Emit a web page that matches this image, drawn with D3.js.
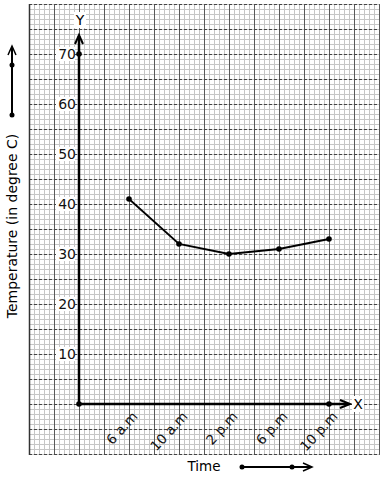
<!DOCTYPE html>
<html>
<head>
<meta charset="utf-8">
<script src="https://cdn.jsdelivr.net/npm/d3@7"></script>
<style>
  body { margin: 0; background: white; }
  text { font-family: "DejaVu Sans", sans-serif; }
</style>
</head>
<body>
<div id="canvas"></div>
<script>
"use strict"

// DATA
let times = ["6 a.m", "10 a.m", "2 p.m", "6 p.m", "10 p.m"];
let temps = [41, 32, 30, 31, 33];
let yTicks = [10, 20, 30, 40, 50, 60, 70];

let svgWidth = 384;
let svgHeight = 480;

let svg = d3.select("#canvas")
  .append("svg")
  .attr("width", svgWidth)
  .attr("height", svgHeight);

// scales: x index 0 is the origin, times sit at 1..5
let xScale = d3.scaleLinear()
  .domain([0, 5])
  .range([79, 329]);

let yScale = d3.scaleLinear()
  .domain([0, 70])
  .range([404, 54]);

// graph paper extents
let gridLeft = xScale(-1), gridRight = xScale(6);
let gridTop = yScale(80), gridBottom = yScale(-10);

// minor grid
let minorX = d3.range(gridLeft, gridRight + 0.1, 5);
let minorY = d3.range(gridTop, gridBottom + 0.1, 5);

svg.selectAll(".minorV")
  .data(minorX)
  .join("line")
  .attr("x1", d => d + 0.5).attr("x2", d => d + 0.5)
  .attr("y1", gridTop).attr("y2", gridBottom)
  .attr("stroke", "#c6c6c6")
  .attr("stroke-width", 1);

svg.selectAll(".minorH")
  .data(minorY)
  .join("line")
  .attr("y1", d => d + 0.5).attr("y2", d => d + 0.5)
  .attr("x1", gridLeft).attr("x2", gridRight)
  .attr("stroke", "#c6c6c6")
  .attr("stroke-width", 1);

// major grid
let majorX = d3.range(gridLeft, gridRight + 0.1, 25);
let majorY = d3.range(gridTop, gridBottom + 0.1, 25);

svg.selectAll(".majorV")
  .data(majorX)
  .join("line")
  .attr("x1", d => d + 0.5).attr("x2", d => d + 0.5)
  .attr("y1", gridTop).attr("y2", gridBottom + 1)
  .attr("stroke", "#5a5a5a")
  .attr("stroke-width", 1);

svg.selectAll(".majorH")
  .data(majorY)
  .join("line")
  .attr("y1", d => d + 0.5).attr("y2", d => d + 0.5)
  .attr("x1", gridLeft).attr("x2", gridRight)
  .attr("stroke", "#444")
  .attr("stroke-dasharray", "3,2")
  .attr("stroke-width", 1);

// frame left side
svg.append("line")
  .attr("x1", gridLeft + 0.5).attr("x2", gridLeft + 0.5)
  .attr("y1", gridTop).attr("y2", gridBottom + 1)
  .attr("stroke", "#333").attr("stroke-width", 1.5);

// Y tick labels with white boxes
let yLab = svg.selectAll(".ylab")
  .data(yTicks)
  .join("g")
  .attr("transform", d => "translate(" + (xScale(0) - 3) + "," + yScale(d) + ")");

yLab.append("rect")
  .attr("x", -20).attr("y", -7)
  .attr("width", 19).attr("height", 14)
  .attr("fill", "white");

yLab.append("text")
  .attr("text-anchor", "end")
  .attr("dy", "0.36em")
  .style("font-size", "14px")
  .attr("fill", "#111")
  .text(d => d);

// axes
let axisColor = "#000";
svg.append("line")
  .attr("x1", xScale(0)).attr("x2", xScale(0))
  .attr("y1", yScale(0)).attr("y2", 36)
  .attr("stroke", axisColor).attr("stroke-width", 2.5);

svg.append("path")
  .attr("d", "M" + (xScale(0) - 4) + ",44 L" + xScale(0) + ",35 L" + (xScale(0) + 4) + ",44")
  .attr("fill", "none").attr("stroke", axisColor).attr("stroke-width", 2);

svg.append("line")
  .attr("x1", xScale(0)).attr("x2", 349)
  .attr("y1", yScale(0)).attr("y2", yScale(0))
  .attr("stroke", axisColor).attr("stroke-width", 2.5);

svg.append("path")
  .attr("d", "M340," + (yScale(0) - 4) + " L350," + yScale(0) + " L340," + (yScale(0) + 4))
  .attr("fill", "none").attr("stroke", axisColor).attr("stroke-width", 2);

// axis letters
svg.append("rect").attr("x", 74).attr("y", 12).attr("width", 12).attr("height", 16).attr("fill", "white");
svg.append("text")
  .attr("x", xScale(0) + 1).attr("y", 25)
  .attr("text-anchor", "middle")
  .style("font-size", "14px")
  .text("Y");

svg.append("rect").attr("x", 352).attr("y", 396).attr("width", 12).attr("height", 16).attr("fill", "white");
svg.append("text")
  .attr("x", 358).attr("y", yScale(0) + 5)
  .attr("text-anchor", "middle")
  .style("font-size", "14px")
  .text("X");

// axis dots
svg.selectAll(".axisDot")
  .data([[0, 0], [0, 70], [5, 0]])
  .join("circle")
  .attr("cx", d => xScale(d[0]))
  .attr("cy", d => yScale(d[1]))
  .attr("r", 2.8)
  .attr("fill", "#000");

// X tick labels
svg.selectAll(".xlab")
  .data(times)
  .join("text")
  .attr("transform", (d, i) => "translate(" + (xScale(i + 1) + 6) + "," + (yScale(0) + 10) + ") rotate(-47)")
  .attr("text-anchor", "end")
  .attr("dy", "0.35em")
  .style("font-size", "13.5px")
  .attr("fill", "#111")
  .text(d => d);

// line
let line = d3.line()
  .x((d, i) => xScale(i + 1))
  .y(d => yScale(d));

svg.append("path")
  .datum(temps)
  .attr("d", line)
  .attr("fill", "none")
  .attr("stroke", "#000")
  .attr("stroke-width", 1.8);

svg.selectAll(".pt")
  .data(temps)
  .join("circle")
  .attr("cx", (d, i) => xScale(i + 1))
  .attr("cy", d => yScale(d))
  .attr("r", 2.8)
  .attr("fill", "#000");

// axis titles
svg.append("text")
  .attr("x", 204).attr("y", 471)
  .attr("text-anchor", "middle")
  .style("font-size", "13.5px")
  .text("Time");

svg.append("text")
  .attr("transform", "translate(17,226) rotate(-90)")
  .attr("text-anchor", "middle")
  .style("font-size", "14px")
  .text("Temperature (in degree C)");

// direction arrows
svg.append("line")
  .attr("x1", 242).attr("x2", 311).attr("y1", 467).attr("y2", 467)
  .attr("stroke", "#000").attr("stroke-width", 2);
svg.append("path")
  .attr("d", "M303,463 L312,467 L303,471")
  .attr("fill", "none").attr("stroke", "#000").attr("stroke-width", 1.5);
svg.selectAll(".tdot")
  .data([242, 292])
  .join("circle")
  .attr("cx", d => d).attr("cy", 467).attr("r", 2.5).attr("fill", "#000");

svg.append("line")
  .attr("x1", 12).attr("x2", 12).attr("y1", 115).attr("y2", 47)
  .attr("stroke", "#000").attr("stroke-width", 2);
svg.append("path")
  .attr("d", "M8,55 L12,46 L16,55")
  .attr("fill", "none").attr("stroke", "#000").attr("stroke-width", 1.5);
svg.selectAll(".ldot")
  .data([115, 65])
  .join("circle")
  .attr("cx", 12).attr("cy", d => d).attr("r", 2.5).attr("fill", "#000");
</script>
</body>
</html>
